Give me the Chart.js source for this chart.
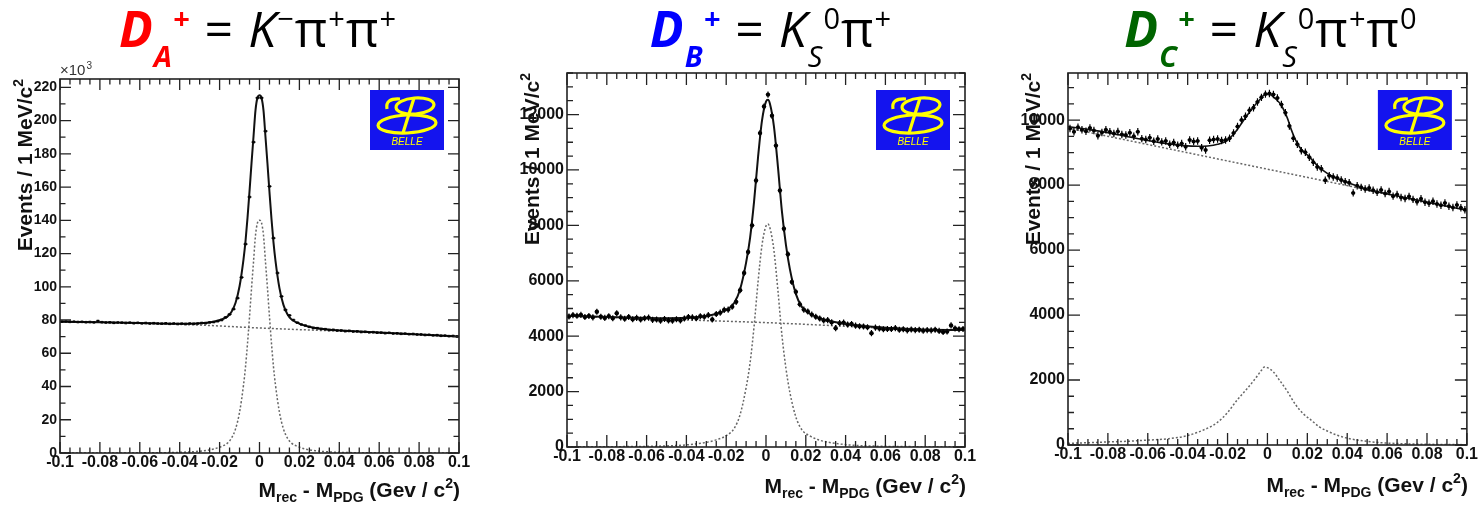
<!DOCTYPE html>
<html>
<head>
<meta charset="utf-8">
<script src="https://cdn.jsdelivr.net/npm/chart.js@4.4.1/dist/chart.umd.min.js"></script>
<style>
  body { margin: 0; width: 1480px; height: 505px; background: #fff; position: relative; overflow: hidden; }
  canvas { position: absolute; top: 0; }
  .ttl { position: absolute; top: 3px; transform: translateX(-50%); font-family: "Open Sans", "Noto Sans", sans-serif;
         font-size: 50px; line-height: 50px; letter-spacing: 1px; white-space: nowrap; color: #000; z-index: 2; }
  .ttl b { font-style: italic; font-weight: 700; }
  .ttl .sb { font-size: 29px; position: relative; top: 20px; line-height: 0; }
  .ttl .sp { font-size: 29px; position: relative; top: -18px; line-height: 0; }
</style>
</head>
<body>
<div class="ttl" style="left:258px"><span style="color:#ff0000"><b>D</b><span class="sb"><b>A</b></span><span class="sp"><b>+</b></span></span> = <i>K</i><span class="sp">−</span>π<span class="sp">+</span>π<span class="sp">+</span></div>
<div class="ttl" style="left:771px"><span style="color:#0000ff"><b>D</b><span class="sb"><b>B</b></span><span class="sp"><b>+</b></span></span> = <i>K</i><span class="sb"><i>S</i></span><span class="sp">0</span>π<span class="sp">+</span></div>
<div class="ttl" style="left:1271px"><span style="color:#006400"><b>D</b><span class="sb"><b>C</b></span><span class="sp"><b>+</b></span></span> = <i>K</i><span class="sb"><i>S</i></span><span class="sp">0</span>π<span class="sp">+</span>π<span class="sp">0</span></div>

<canvas id="cA" width="480" height="505" style="left:0"></canvas>
<canvas id="cB" width="490" height="505" style="left:490px"></canvas>
<canvas id="cC" width="490" height="505" style="left:990px"></canvas>

<script>
// bin centres in MeV (2 MeV bins), axis is labelled in GeV
const binCentersMeV = [-99,-97,-95,-93,-91,-89,-87,-85,-83,-81,-79,-77,-75,-73,-71,-69,-67,-65,-63,-61,
  -59,-57,-55,-53,-51,-49,-47,-45,-43,-41,-39,-37,-35,-33,-31,-29,-27,-25,-23,-21,
  -19,-17,-15,-13,-11,-9,-7,-5,-3,-1,1,3,5,7,9,11,13,15,17,19,
  21,23,25,27,29,31,33,35,37,39,41,43,45,47,49,51,53,55,57,59,
  61,63,65,67,69,71,73,75,77,79,81,83,85,87,89,91,93,95,97,99];
const binHalfWidth = 1;
const xTicksMeV = [-100,-80,-60,-40,-20,0,20,40,60,80,100];
const xTickLabels = ['-0.1','-0.08','-0.06','-0.04','-0.02','0','0.02','0.04','0.06','0.08','0.1'];
const yTicksA = [0,20,40,60,80,100,120,140,160,180,200,220];
const yTicksB = [0,2000,4000,6000,8000,10000,12000];
const yTicksC = [0,2000,4000,6000,8000,10000];

// D_A+ -> K- pi+ pi+  (events in units of 10^3)
const eventsA = [79.0,79.1,78.9,79.0,78.8,78.9,78.7,78.8,78.6,79.4,
  78.7,78.5,78.6,78.3,78.5,78.4,78.2,78.4,78.1,78.3,
  78.0,78.2,77.9,78.1,77.9,77.8,78.0,77.7,77.9,77.6,
  77.8,77.6,77.9,77.7,77.9,78.2,78.1,78.6,78.8,79.3,
  80.0,81.6,83.4,86.6,93.2,105.6,125.7,154.0,187.0,213.6,
  213.6,193.6,160.4,129.3,108.3,94.2,86.1,82.8,80.0,78.4,
  77.3,76.7,75.9,75.2,75.1,74.6,74.5,74.0,74.1,73.7,
  73.7,73.3,73.5,73.1,73.2,72.8,72.9,72.6,72.7,72.4,
  72.4,72.1,72.3,71.9,72.0,71.7,71.8,71.5,71.6,71.3,
  71.3,71.0,71.1,70.8,70.9,70.5,70.6,70.3,70.4,70.1];
const errA = 0.35;
const fitXA = [-100,-80,-60,-45,-35,-28,-23,-19,-16,-14,-12,-10,-8,-7,-6,-5,-4,-3,-2,-1,0,
  1,2,3,4,5,6,7,8,10,12,14,16,19,23,28,35,45,60,80,100];
const fitTotalA = [79.0,78.6,78.2,77.8,77.8,78.2,79.0,80.3,82.2,85.0,90.4,100.3,116.7,127.6,141.6,157.5,174.4,190.4,206.3,213.8,215.2,
  213.7,206.1,190.1,174.0,157.0,140.9,126.9,115.8,99.2,89.1,83.5,80.4,78.3,76.5,75.2,74.2,73.4,72.5,71.3,70.1];
const fitSignalA = [0,0,0.1,0.25,0.65,1.35,2.4,4.0,6.0,9.0,14.5,24.5,41,52,66,82,99,115,131,138.5,140,
  138.5,131,115,99,82,66,52,41,24.5,14.5,9.0,6.0,4.0,2.4,1.35,0.65,0.25,0.1,0,0];
const bkgX = [-100,-75,-50,-25,0,25,50,75,100];
const bkgA = [79.0,78.5,77.8,76.7,75.2,74.0,72.9,71.6,70.1];

// D_B+ -> K_S0 pi+
const eventsB = [4710,4760,4740,4770,4690,4730,4680,4880,4700,4660,
  4720,4650,4830,4680,4630,4690,4610,4660,4600,4650,
  4670,4590,4600,4560,4620,4570,4560,4610,4570,4640,
  4690,4680,4650,4720,4700,4760,4600,4800,4850,4950,
  4960,5060,5240,5660,6280,7040,8000,9620,11330,12290,
  12720,11960,10880,9260,7880,6960,5960,5600,5150,4960,
  4890,4780,4700,4640,4570,4580,4500,4290,4470,4490,
  4420,4440,4380,4360,4350,4320,4110,4310,4280,4250,
  4260,4260,4290,4230,4250,4210,4240,4220,4230,4200,
  4220,4210,4230,4190,4150,4170,4390,4280,4250,4260];
const errB = 110;
const fitXB = [-100,-75,-50,-40,-30,-25,-20,-16,-13,-10,-8,-6,-4,-2,0,1,2,4,6,8,10,12,15,18,22,26,30,40,50,75,100];
const fitTotalB = [4734,4682,4649,4663,4730,4808,4948,5196,5696,6654,7549,8854,10460,11790,12470,12532,12384,
  11567,10111,8504,7308,6422,5527,5057,4820,4674,4582,4440,4362,4252,4219];
const fitSignalB = [4,12,39,77,168,258,410,668,1175,2140,3040,4350,5960,7295,7980,8045,7900,
  7090,5640,4040,2850,1970,1085,625,400,268,190,84,42,12,4];
const bkgB = [4730,4670,4610,4550,4490,4410,4320,4240,4215];

// D_C+ -> K_S0 pi+ pi0
const eventsC = [9740,9640,9780,9700,9660,9760,9680,9520,9620,9700,
  9640,9590,9650,9560,9540,9610,9500,9640,9430,9400,
  9460,9350,9420,9330,9360,9260,9310,9230,9280,9180,
  9390,9340,9360,9150,9080,9380,9400,9420,9370,9390,
  9440,9600,9800,10000,10120,10300,10380,10560,10700,10800,
  10820,10790,10680,10480,10230,9820,9440,9260,9060,9010,
  8860,8700,8560,8500,8150,8290,8250,8220,8160,8100,
  8070,7760,7980,7930,7880,7910,7840,7780,7850,7740,
  7800,7660,7710,7620,7590,7650,7560,7490,7580,7470,
  7440,7500,7420,7380,7450,7350,7310,7390,7300,7240];
const errC = 115;
const fitXC = [-100,-90,-80,-70,-60,-50,-42,-35,-30,-25,-20,-16,-12,-8,-4,-1,1,4,7,10,12,14,16,18,21,25,30,35,40,50,60,70,80,90,100];
const fitTotalC = [9800,9715,9615,9490,9370,9270,9215,9195,9205,9255,9380,9640,9990,10330,10620,10790,10790,10660,10450,
  10060,9700,9400,9180,9030,8870,8600,8360,8200,8090,7860,7730,7600,7475,7350,7225];
const sigXC = [-100,-90,-80,-70,-60,-50,-40,-30,-25,-20,-15,-10,-6,-3,-1.5,0,3,6,10,14,18,22,26,30,35,40,50,60,70,85,100];
const fitSignalC = [50,70,95,115,150,190,290,520,700,1000,1400,1750,2050,2300,2400,2380,2250,2000,1650,1250,960,
  760,560,430,300,210,110,60,35,18,10];
const bkgXC = [-100,100];
const bkgC = [9755,7225];

const FONT = '"Liberation Sans", Arial, Helvetica, sans-serif';
const xTitleParts = [{t:'M',s:21},{t:'rec',s:14,dy:5},{t:' - M',s:21},{t:'PDG',s:14,dy:5},{t:' (Gev / c',s:21},{t:'2',s:14,dy:-9},{t:')',s:21}];
const yTitleParts = [{t:'Events / 1 MeV/c',s:21},{t:'2',s:14,dy:-9}];

const toXY = (xs, ys) => xs.map((x, i) => ({x: x, y: ys[i]}));

function drawParts(ctx, parts, x, y) {
  let w = 0;
  parts.forEach(p => { ctx.font = `bold ${p.s}px ${FONT}`; w += ctx.measureText(p.t).width; });
  let cx = x - w;
  parts.forEach(p => {
    ctx.font = `bold ${p.s}px ${FONT}`;
    ctx.fillText(p.t, cx, y + (p.dy || 0));
    cx += ctx.measureText(p.t).width;
  });
}

function drawLogo(ctx, x0, y0) {
  ctx.fillStyle = '#1414ee';
  ctx.fillRect(x0, y0, 74, 60);
  ctx.strokeStyle = '#ffff00';
  ctx.lineWidth = 3.2;
  ctx.beginPath(); ctx.ellipse(x0 + 45, y0 + 16, 19, 8, -0.08, 0, Math.PI * 2); ctx.stroke();
  ctx.beginPath(); ctx.ellipse(x0 + 37, y0 + 34, 29, 9, -0.05, 0, Math.PI * 2); ctx.stroke();
  ctx.beginPath(); ctx.moveTo(x0 + 44, y0 + 8); ctx.lineTo(x0 + 33, y0 + 43); ctx.stroke();
  ctx.beginPath(); ctx.moveTo(x0 + 30, y0 + 9); ctx.quadraticCurveTo(x0 + 15, y0 + 8, x0 + 17, y0 + 19); ctx.stroke();
  ctx.fillStyle = '#ffff00';
  ctx.font = `italic 10px ${FONT}`;
  ctx.textAlign = 'center';
  ctx.fillText('BELLE', x0 + 37, y0 + 55);
  ctx.textAlign = 'left';
}

// ROOT style frame: ticks inside on all four sides, titles, logo
const rootFrame = {
  id: 'rootFrame',
  afterDraw(chart, args, o) {
    const {ctx, chartArea: a, scales: {x, y}} = chart;
    ctx.save();
    ctx.strokeStyle = '#222';
    ctx.lineWidth = 1.3;
    ctx.beginPath();
    for (let v = x.min; v <= x.max + 1e-6; v += o.xMinor) {
      const px = x.getPixelForValue(v);
      const len = Math.abs(v / o.xMajor - Math.round(v / o.xMajor)) < 1e-6 ? o.majorLen : o.minorLen;
      ctx.moveTo(px, a.bottom); ctx.lineTo(px, a.bottom - len);
      ctx.moveTo(px, a.top); ctx.lineTo(px, a.top + len);
    }
    for (let v = 0; v <= y.max + 1e-6; v += o.yMinor) {
      const py = y.getPixelForValue(v);
      const len = Math.abs(v / o.yMajor - Math.round(v / o.yMajor)) < 1e-6 ? o.majorLen : o.minorLen;
      ctx.moveTo(a.left, py); ctx.lineTo(a.left + len, py);
      ctx.moveTo(a.right, py); ctx.lineTo(a.right - len, py);
    }
    ctx.stroke();
    ctx.lineWidth = 1.6;
    ctx.strokeRect(a.left, a.top, a.right - a.left, a.bottom - a.top);

    drawLogo(ctx, a.right - 15 - 74, o.logoTop);

    ctx.fillStyle = '#111';
    ctx.textBaseline = 'alphabetic';
    drawParts(ctx, xTitleParts, a.right + 1, a.bottom + o.xTitleDy);
    ctx.save();
    ctx.translate(a.left - 28, a.top);
    ctx.rotate(-Math.PI / 2);
    drawParts(ctx, yTitleParts, 0, 0);
    ctx.restore();

    if (o.exponent) {
      ctx.fillStyle = '#333';
      ctx.font = `15px ${FONT}`;
      ctx.fillText('×10', a.left, a.top - 4);
      const w = ctx.measureText('×10').width;
      ctx.font = `10px ${FONT}`;
      ctx.fillText(o.exponent, a.left + w + 1, a.top - 10);
    }
    ctx.restore();
  }
};

const errorBars = {
  id: 'errorBars',
  afterDatasetsDraw(chart) {
    const {ctx, chartArea: a, scales: {x, y}} = chart;
    ctx.save();
    ctx.beginPath();
    ctx.rect(a.left, a.top, a.right - a.left, a.bottom - a.top);
    ctx.clip();
    chart.data.datasets.forEach(ds => {
      if (ds.errY === undefined) return;
      ctx.strokeStyle = '#000';
      ctx.lineWidth = 1.2;
      ctx.beginPath();
      ds.data.forEach(p => {
        const px = x.getPixelForValue(p.x), py = y.getPixelForValue(p.y);
        ctx.moveTo(x.getPixelForValue(p.x - binHalfWidth), py);
        ctx.lineTo(x.getPixelForValue(p.x + binHalfWidth), py);
        ctx.moveTo(px, y.getPixelForValue(p.y - ds.errY));
        ctx.lineTo(px, y.getPixelForValue(p.y + ds.errY));
      });
      ctx.stroke();
    });
    ctx.restore();
  }
};

function makeChart(id, cfg) {
  const dotted = {showLine: true, pointRadius: 0, borderColor: '#666', borderWidth: 1.5, borderDash: [2, 2],
    cubicInterpolationMode: 'monotone'};
  return new Chart(document.getElementById(id), {
    type: 'scatter',
    data: {
      datasets: [
        {data: toXY(cfg.fitX, cfg.fitTotal), showLine: true, pointRadius: 0, borderColor: '#111',
          borderWidth: cfg.fitWidth, cubicInterpolationMode: 'monotone'},
        {data: toXY(binCentersMeV, cfg.events), errY: cfg.err, pointStyle: cfg.marker, pointRadius: cfg.markerSize,
          backgroundColor: '#000', borderColor: '#000', borderWidth: 0},
        Object.assign({data: toXY(cfg.bkgX, cfg.bkg)}, dotted),
        Object.assign({data: toXY(cfg.sigX, cfg.signal)}, dotted)
      ]
    },
    options: {
      responsive: false,
      animation: false,
      devicePixelRatio: 1,
      layout: {padding: {left: 0, right: cfg.padRight, top: cfg.padTop, bottom: 0}},
      plugins: {
        legend: {display: false},
        tooltip: {enabled: false},
        rootFrame: cfg.frame
      },
      scales: {
        x: {
          type: 'linear', min: -100, max: 100,
          grid: {display: false, drawTicks: false}, border: {display: false},
          ticks: {autoSkip: false, maxRotation: 0, padding: 2, color: '#111',
            font: {family: FONT, size: 16, weight: 'bold', lineHeight: 1},
            callback: (v, i) => xTickLabels[i]},
          afterBuildTicks: s => { s.ticks = xTicksMeV.map(v => ({value: v})); },
          afterFit: s => { s.height = cfg.xAxisHeight; }
        },
        y: {
          min: 0, max: cfg.yMax,
          grid: {display: false, drawTicks: false}, border: {display: false},
          ticks: {autoSkip: false, padding: 3, color: '#111',
            font: {family: FONT, size: cfg.yFont, weight: 'bold', lineHeight: 1},
            callback: v => String(v)},
          afterBuildTicks: s => { s.ticks = cfg.yTicks.map(v => ({value: v})); },
          afterFit: s => { s.width = cfg.yAxisWidth; }
        }
      }
    },
    plugins: [rootFrame, errorBars]
  });
}

makeChart('cA', {
  events: eventsA, err: errA, fitX: fitXA, fitTotal: fitTotalA, sigX: fitXA, signal: fitSignalA, bkgX: bkgX, bkg: bkgA,
  yMax: 225, yTicks: yTicksA, yFont: 14, yAxisWidth: 60, xAxisHeight: 52, padRight: 21, padTop: 79,
  marker: 'rect', markerSize: 1.8, fitWidth: 2,
  frame: {xMajor: 20, xMinor: 5, yMajor: 20, yMinor: 10, majorLen: 11, minorLen: 5.5, logoTop: 90, xTitleDy: 44, exponent: '3'}
});
makeChart('cB', {
  events: eventsB, err: errB, fitX: fitXB, fitTotal: fitTotalB, sigX: fitXB, signal: fitSignalB, bkgX: bkgX, bkg: bkgB,
  yMax: 13500, yTicks: yTicksB, yFont: 16, yAxisWidth: 77, xAxisHeight: 58, padRight: 15, padTop: 73,
  marker: 'circle', markerSize: 2.2, fitWidth: 2,
  frame: {xMajor: 20, xMinor: 5, yMajor: 2000, yMinor: 500, majorLen: 12, minorLen: 6, logoTop: 90, xTitleDy: 46}
});
makeChart('cC', {
  events: eventsC, err: errC, fitX: fitXC, fitTotal: fitTotalC, sigX: sigXC, signal: fitSignalC, bkgX: bkgXC, bkg: bkgC,
  yMax: 11450, yTicks: yTicksC, yFont: 16, yAxisWidth: 78, xAxisHeight: 60, padRight: 13, padTop: 73,
  marker: 'circle', markerSize: 2, fitWidth: 1.6,
  frame: {xMajor: 20, xMinor: 5, yMajor: 2000, yMinor: 500, majorLen: 12, minorLen: 6, logoTop: 90, xTitleDy: 47}
});
</script>
</body>
</html>
